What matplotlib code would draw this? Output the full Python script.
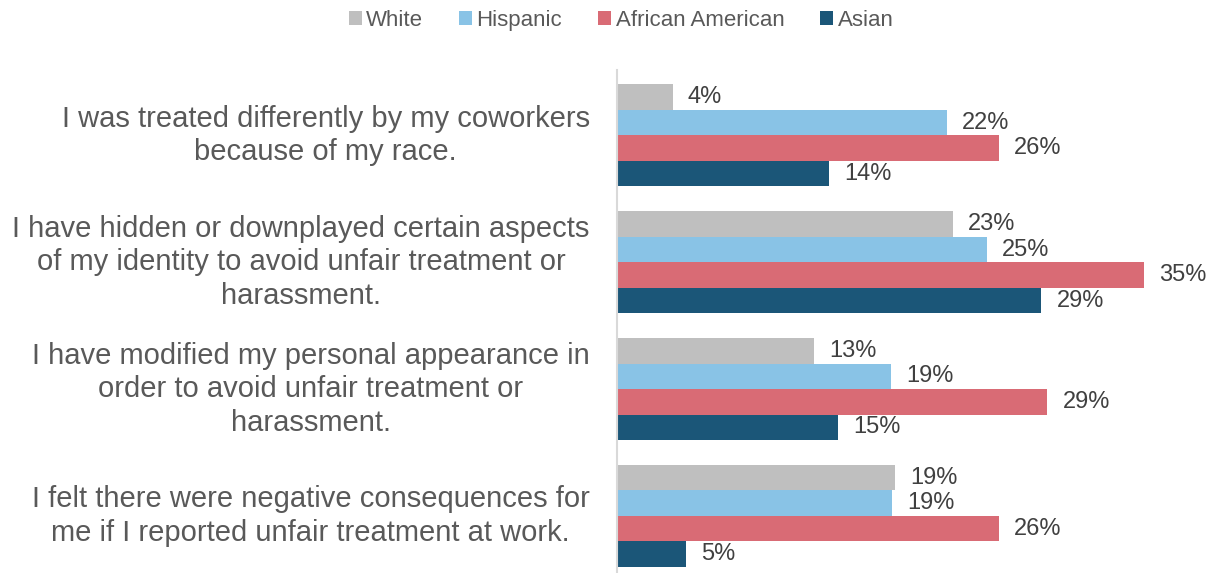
import matplotlib.pyplot as plt
import numpy as np

statements = [
    "I was treated differently by my coworkers\nbecause of my race.",
    "I have hidden or downplayed certain aspects\nof my identity to avoid unfair treatment or\nharassment.",
    "I have modified my personal appearance in\norder to avoid unfair treatment or\nharassment.",
    "I felt there were negative consequences for\nme if I reported unfair treatment at work.",
]
groups = ["White", "Hispanic", "African American", "Asian"]
# bar lengths as drawn (unrounded), and the rounded labels printed on them
white = [3.7, 22.3, 13.1, 18.5]
hispanic = [21.9, 24.6, 18.2, 18.3]
african_american = [25.4, 35.0, 28.6, 25.4]
asian = [14.1, 28.2, 14.7, 4.6]
white_lbl = [4, 23, 13, 19]
hispanic_lbl = [22, 25, 19, 19]
african_american_lbl = [26, 35, 29, 26]
asian_lbl = [14, 29, 15, 5]
colors = ["#BFBFBF", "#89C3E6", "#D96B75", "#1B5678"]

plt.rcParams['font.family'] = ['Liberation Sans', 'DejaVu Sans']
text_color = "#595959"

fig = plt.figure(figsize=(12.19, 5.73), dpi=100)
ax = fig.add_axes([0.506, 0.0, 0.494, 0.878])

series = [white, hispanic, african_american, asian]
series_lbl = [white_lbl, hispanic_lbl, african_american_lbl, asian_lbl]
bar_h = 0.201
y = np.arange(len(statements))
for i, (name, vals, lbls, col) in enumerate(zip(groups, series, series_lbl, colors)):
    pos = y + (i - 1.5) * bar_h
    bars = ax.barh(pos, vals, height=bar_h, color=col, label=name)
    for b, v in zip(bars, lbls):
        ax.text(b.get_width() + 1.0, b.get_y() + b.get_height() / 2,
                f"{v}%", va="center", ha="left", fontsize=17,
                color="#404040")

ax.set_xlim(0, 40)
ax.set_ylim(3.45, -0.517)
ax.set_xticks([])
ax.set_yticks([])
for s in ["top", "right", "bottom"]:
    ax.spines[s].set_visible(False)
ax.spines["left"].set_color("#D9D9D9")
ax.spines["left"].set_linewidth(1.5)

for yi, txt in zip(y, statements):
    ax.text(-0.045, yi, txt, ha="right", va="center", fontsize=21,
            color=text_color, transform=ax.get_yaxis_transform(),
            multialignment="center", linespacing=1.25)

handles, labels = ax.get_legend_handles_labels()
fig.legend(handles, labels, loc="center", bbox_to_anchor=(0.5095, 0.965),
           ncol=4, frameon=False, fontsize=16, labelcolor=text_color,
           handlelength=0.6, handleheight=0.6, handletextpad=0.2,
           columnspacing=1.6)

fig.savefig("out.png", dpi=100)
